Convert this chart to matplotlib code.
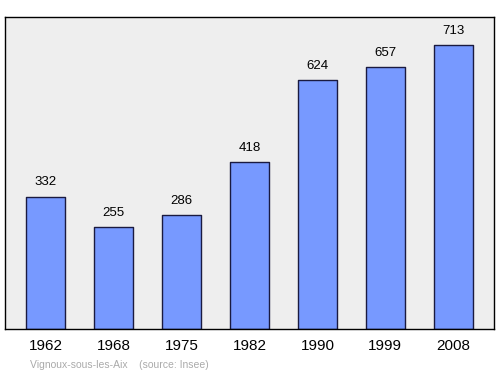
import matplotlib.pyplot as plt

years = ['1962', '1968', '1975', '1982', '1990', '1999', '2008']
population = [332, 255, 286, 418, 624, 657, 713]

plt.rcParams['font.family'] = ['Liberation Sans', 'DejaVu Sans']

fig = plt.figure(figsize=(5, 3.74), dpi=100)
ax = fig.add_axes([0.01, 0.1203, 0.978, 0.834])
ax.set_facecolor('#eeeeee')

xs = range(len(years))
ax.bar(xs, population, width=0.57, color='#7799ff', edgecolor='#1a1a40',
       linewidth=1.0, joinstyle='round')
for x, v in zip(xs, population):
    ax.annotate(str(v), (x, v), xytext=(0, 6), textcoords='offset points',
                ha='center', va='bottom', fontsize=9.5)

ax.set_xlim(-0.6, 6.6)
ax.set_ylim(0, 783)
ax.set_yticks([])
ax.set_xticks(list(xs))
ax.set_xticklabels(years, fontsize=11)
ax.tick_params(axis='x', length=0, pad=7)
for s in ax.spines.values():
    s.set_linewidth(1.0)

fig.text(0.06, 0.012, 'Vignoux-sous-les-Aix    (source: Insee)', fontsize=7.5,
         color='#aaaaaa', ha='left', va='bottom')

fig.savefig('out.png', dpi=100)
